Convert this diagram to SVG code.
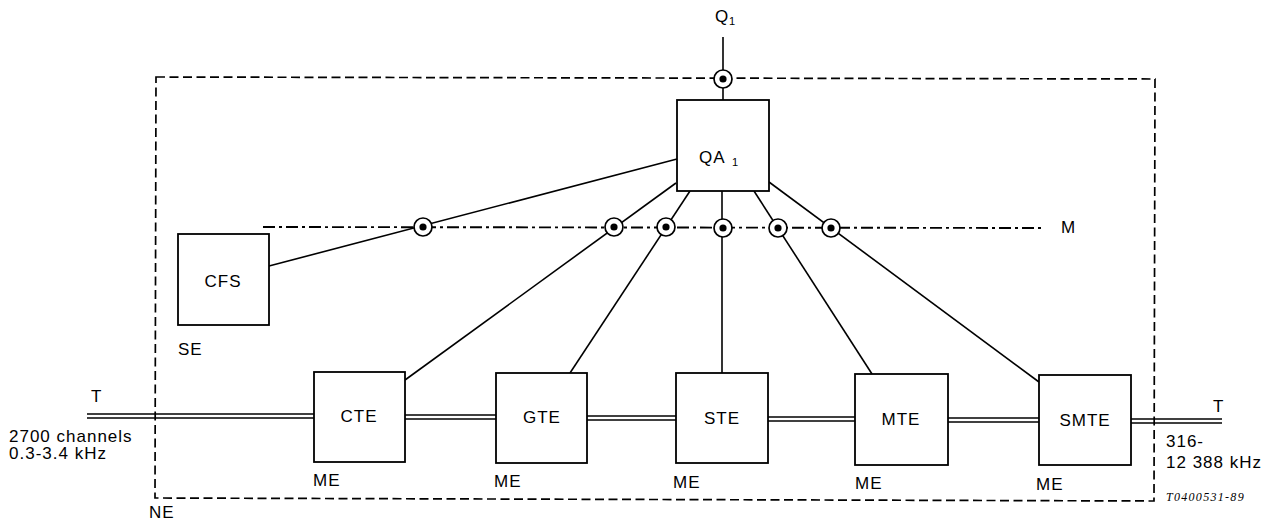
<svg xmlns="http://www.w3.org/2000/svg" width="1281" height="528" viewBox="0 0 1281 528">
  <style>
    .box { fill: #fff; stroke: #000; stroke-width: 1.8; }
    .lbl { font-family: "Liberation Sans", Arial, sans-serif; font-size: 17px; fill: #000; letter-spacing: 1px; }
    .sub { font-family: "Liberation Sans", Arial, sans-serif; font-size: 11px; fill: #000; }
    .ln { stroke: #000; stroke-width: 1.6; fill: none; }
    .ne { stroke: #000; stroke-width: 1.7; fill: none; stroke-dasharray: 9 4.5; }
    .mbus { stroke: #000; stroke-width: 1.9; fill: none; stroke-dasharray: 12 4 3 4; }
    .ring { fill: #fff; stroke: #000; stroke-width: 1.7; }
    .dot { fill: #000; }
    .tl { stroke: #000; stroke-width: 1.5; fill: none; }
    .ref { font-family: "Liberation Serif", "Times New Roman", serif; font-style: italic; font-size: 12px; letter-spacing: 1.3px; fill: #000; }
  </style>
  <defs>
    <g id="port">
      <circle class="ring" r="9"/>
      <circle class="dot" r="3.6"/>
    </g>
  </defs>
  <rect width="1281" height="528" fill="#fff"/>

  <!-- network element boundary -->
  <path class="ne" d="M156,77 L1155,79 L1154,501 L155,498 Z"/>

  <!-- M interface bus -->
  <line class="mbus" x1="263" y1="227" x2="1042" y2="228"/>

  <g id="connectors">
    <!-- Q1 to QA1 -->
    <line class="ln" x1="723" y1="37" x2="723" y2="100"/>
    <!-- QA1 to managed elements -->
    <line class="ln" x1="269" y1="266" x2="677" y2="159"/>
    <line class="ln" x1="405" y1="380" x2="676" y2="183"/>
    <line class="ln" x1="570" y1="373" x2="690" y2="191"/>
    <line class="ln" x1="722" y1="373" x2="722" y2="191"/>
    <line class="ln" x1="872" y1="374" x2="754" y2="191"/>
    <line class="ln" x1="1039" y1="382" x2="769" y2="182"/>
    <!-- transmission path (double line) -->
    <g class="tl">
      <line x1="87" y1="414" x2="314" y2="414"/>
      <line x1="87" y1="418" x2="314" y2="418"/>
      <line x1="405" y1="415" x2="496" y2="415"/>
      <line x1="405" y1="419" x2="496" y2="419"/>
      <line x1="587" y1="416" x2="676" y2="416"/>
      <line x1="587" y1="420" x2="676" y2="420"/>
      <line x1="768" y1="417" x2="855" y2="417"/>
      <line x1="768" y1="421" x2="855" y2="421"/>
      <line x1="948" y1="418" x2="1039" y2="418"/>
      <line x1="948" y1="422" x2="1039" y2="422"/>
      <line x1="1131" y1="419" x2="1222" y2="419"/>
      <line x1="1131" y1="423" x2="1222" y2="423"/>
    </g>
    <!-- interface points -->
    <use href="#port" x="723" y="79"/>
    <use href="#port" x="423" y="227"/>
    <use href="#port" x="614" y="227"/>
    <use href="#port" x="666" y="227"/>
    <use href="#port" x="723" y="228"/>
    <use href="#port" x="778" y="228"/>
    <use href="#port" x="831" y="228"/>
  </g>

  <g id="qa1">
    <rect class="box" x="677" y="100" width="92" height="91"/>
    <text class="lbl" x="699" y="163" letter-spacing="2">QA</text>
    <text class="sub" x="732" y="166">1</text>
  </g>

  <g id="cfs">
    <rect class="box" x="178" y="234" width="91" height="91"/>
    <text class="lbl" x="223" y="287" text-anchor="middle">CFS</text>
  </g>

  <g id="cte">
    <rect class="box" x="314" y="372" width="91" height="90"/>
    <text class="lbl" x="359" y="422" text-anchor="middle">CTE</text>
  </g>
  <g id="gte">
    <rect class="box" x="496" y="373" width="91" height="90"/>
    <text class="lbl" x="542" y="423" text-anchor="middle">GTE</text>
  </g>
  <g id="ste">
    <rect class="box" x="676" y="373" width="92" height="90"/>
    <text class="lbl" x="722" y="424" text-anchor="middle">STE</text>
  </g>
  <g id="mte">
    <rect class="box" x="855" y="374" width="93" height="91"/>
    <text class="lbl" x="901" y="425" text-anchor="middle">MTE</text>
  </g>
  <g id="smte">
    <rect class="box" x="1039" y="375" width="92" height="90"/>
    <text class="lbl" x="1085" y="426" text-anchor="middle">SMTE</text>
  </g>

  <!-- labels -->
  <text class="lbl" x="715" y="22">Q</text>
  <text class="sub" x="729" y="25">1</text>
  <text class="lbl" x="1061" y="233">M</text>
  <text class="lbl" x="178" y="355">SE</text>
  <text class="lbl" x="313" y="486">ME</text>
  <text class="lbl" x="494" y="487">ME</text>
  <text class="lbl" x="673" y="488">ME</text>
  <text class="lbl" x="855" y="489">ME</text>
  <text class="lbl" x="1036" y="490">ME</text>
  <text class="lbl" x="149" y="518">NE</text>
  <text class="lbl" x="91" y="402">T</text>
  <text class="lbl" x="1213" y="412">T</text>
  <text class="lbl" x="9" y="442">2700 channels</text>
  <text class="lbl" x="9" y="459">0.3-3.4 kHz</text>
  <text class="lbl" x="1166" y="447">316-</text>
  <text class="lbl" x="1166" y="468">12 388 kHz</text>
  <text class="ref" x="1166" y="501">T0400531-89</text>
</svg>
